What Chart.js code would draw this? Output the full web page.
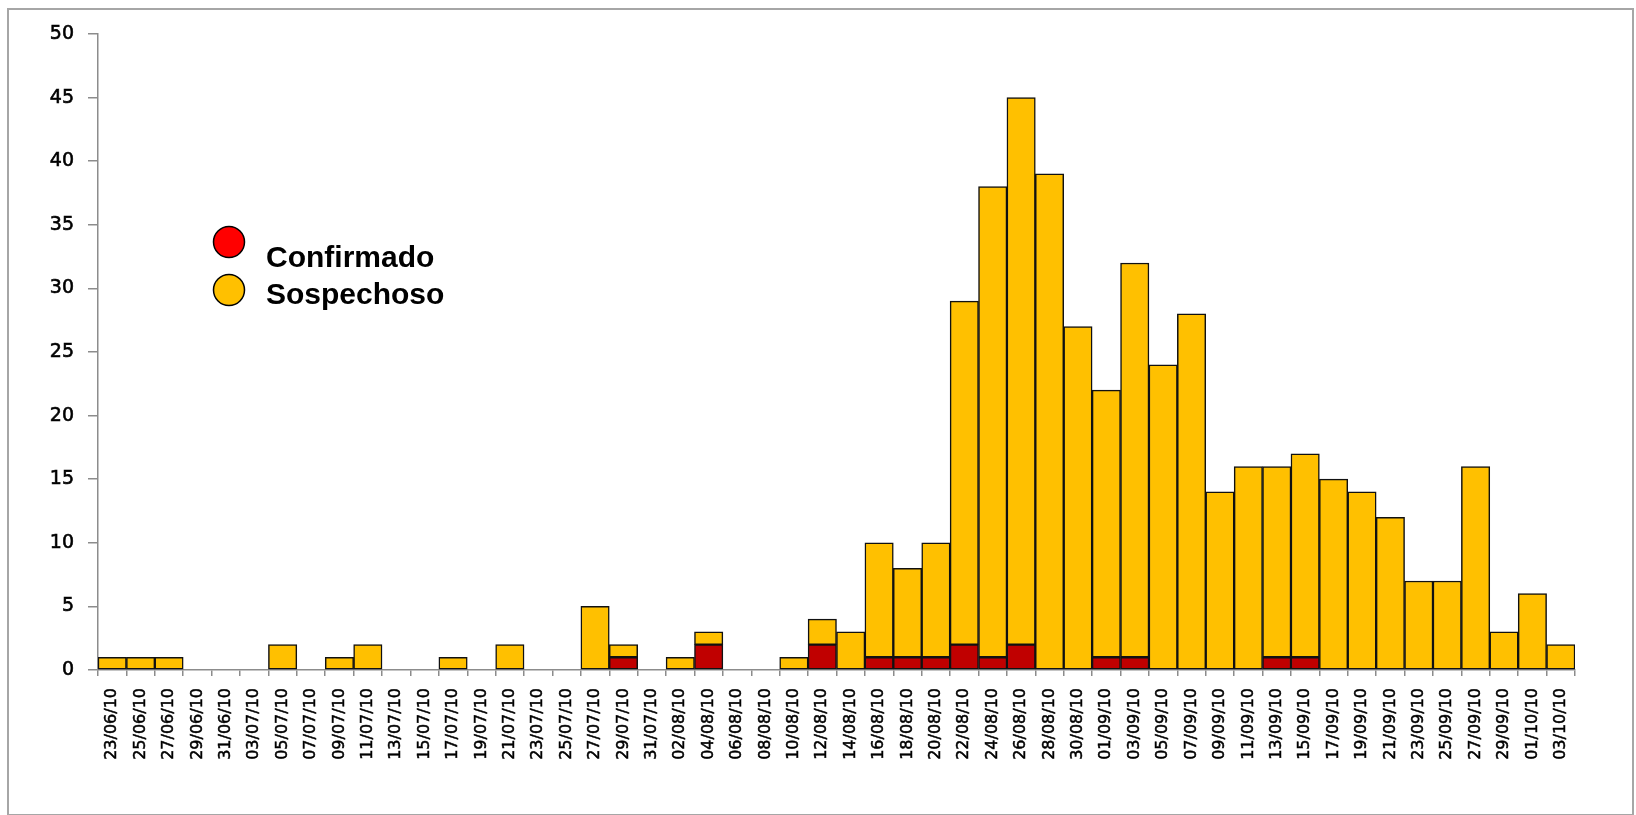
<!DOCTYPE html>
<html>
<head>
<meta charset="utf-8">
<script src="https://cdn.jsdelivr.net/npm/chart.js@4.4.1/dist/chart.umd.min.js"></script>
<style>
  html, body { margin: 0; padding: 0; background: #ffffff; }
  #wrap { position: relative; width: 1636px; height: 815px; }
</style>
</head>
<body>
<div id="wrap"><canvas id="c"></canvas></div>
<script>
// ---- data ----
const categories = [
  "23/06/10","25/06/10","27/06/10","29/06/10","31/06/10","03/07/10","05/07/10","07/07/10",
  "09/07/10","11/07/10","13/07/10","15/07/10","17/07/10","19/07/10","21/07/10","23/07/10",
  "25/07/10","27/07/10","29/07/10","31/07/10","02/08/10","04/08/10","06/08/10","08/08/10",
  "10/08/10","12/08/10","14/08/10","16/08/10","18/08/10","20/08/10","22/08/10","24/08/10",
  "26/08/10","28/08/10","30/08/10","01/09/10","03/09/10","05/09/10","07/09/10","09/09/10",
  "11/09/10","13/09/10","15/09/10","17/09/10","19/09/10","21/09/10","23/09/10","25/09/10",
  "27/09/10","29/09/10","01/10/10","03/10/10"
];
const confirmado = [
  0,0,0,0,0,0,0,0,
  0,0,0,0,0,0,0,0,
  0,0,1,0,0,2,0,0,
  0,2,0,1,1,1,2,1,
  2,0,0,1,1,0,0,0,
  0,1,1,0,0,0,0,0,
  0,0,0,0
];
const sospechoso = [
  1,1,1,0,0,0,2,0,
  1,2,0,0,1,0,2,0,
  0,5,1,0,1,1,0,0,
  1,2,3,9,7,9,27,37,
  43,39,27,21,31,24,28,14,
  16,15,16,15,14,12,7,7,
  16,3,6,2
];
const yTicks = [0,5,10,15,20,25,30,35,40,45,50];
const seriesNames = ["Confirmado","Sospechoso"];
const seriesColors = ["#C00000","#FFC000"];
const legendColors = ["#FF0000","#FFC000"];

// ---- plugins ----
const frame = {
  id: 'frame',
  beforeDraw(chart) {
    const ctx = chart.ctx;
    ctx.save();
    ctx.fillStyle = '#ffffff';
    ctx.fillRect(0, 0, chart.width, chart.height);
    ctx.strokeStyle = '#a6a6a6';
    ctx.lineWidth = 2;
    ctx.strokeRect(8, 9, 1625, 806);
    ctx.restore();
  }
};

const customLegend = {
  id: 'customLegend',
  afterDraw(chart) {
    const ctx = chart.ctx;
    ctx.save();
    const items = [
      { cx: 229, cy: 242, tx: 266, ty: 267 },
      { cx: 229, cy: 290, tx: 266, ty: 304 }
    ];
    chart.data.datasets.forEach((ds, i) => {
      const p = items[i];
      ctx.beginPath();
      ctx.arc(p.cx, p.cy, 15.5, 0, Math.PI * 2);
      ctx.fillStyle = legendColors[i];
      ctx.fill();
      ctx.lineWidth = 1.5;
      ctx.strokeStyle = '#000000';
      ctx.stroke();
      ctx.fillStyle = '#000000';
      ctx.font = 'bold 30px "Liberation Sans", Arial, sans-serif';
      ctx.textBaseline = 'alphabetic';
      ctx.textAlign = 'left';
      ctx.fillText(ds.label, p.tx, p.ty);
    });
    ctx.restore();
  }
};

new Chart(document.getElementById('c'), {
  type: 'bar',
  data: {
    labels: categories,
    datasets: [
      {
        label: seriesNames[0],
        data: confirmado,
        backgroundColor: seriesColors[0],
        borderColor: '#111111',
        borderWidth: 1.5,
        borderSkipped: false,
        categoryPercentage: 1,
        barPercentage: 1
      },
      {
        label: seriesNames[1],
        data: sospechoso,
        backgroundColor: seriesColors[1],
        borderColor: '#111111',
        borderWidth: 1.5,
        borderSkipped: false,
        categoryPercentage: 1,
        barPercentage: 1
      }
    ]
  },
  options: {
    responsive: true,
    maintainAspectRatio: false,
    animation: false,
    layout: { padding: { left: 0, top: 34, right: 61, bottom: 0 } },
    plugins: {
      legend: { display: false },
      tooltip: { enabled: false }
    },
    scales: {
      x: {
        stacked: true,
        offset: true,
        grid: {
          offset: true,
          drawOnChartArea: false,
          drawTicks: true,
          tickLength: 6,
          color: '#8c8c8c',
          lineWidth: 1.5
        },
        border: { display: true, color: '#8c8c8c', width: 1.5 },
        ticks: {
          autoSkip: false,
          minRotation: 90,
          maxRotation: 90,
          padding: 12,
          color: '#000000',
          textStrokeColor: '#000000',
          textStrokeWidth: 0.5,
          font: { family: '"DejaVu Sans", Verdana, sans-serif', size: 16 }
        },
        afterFit(scale) { scale.height = 145; }
      },
      y: {
        stacked: true,
        min: 0,
        max: 50,
        afterBuildTicks(scale) { scale.ticks = yTicks.map(v => ({ value: v })); },
        grid: {
          drawOnChartArea: false,
          drawTicks: true,
          tickLength: 10,
          color: '#8c8c8c',
          lineWidth: 1.5
        },
        border: { display: true, color: '#8c8c8c', width: 1.5 },
        ticks: {
          padding: 14,
          color: '#000000',
          textStrokeColor: '#000000',
          textStrokeWidth: 0.6,
          font: { family: '"DejaVu Sans", Verdana, sans-serif', size: 19 }
        },
        afterFit(scale) { scale.width = 98; }
      }
    }
  },
  plugins: [frame, customLegend]
});
</script>
</body>
</html>
